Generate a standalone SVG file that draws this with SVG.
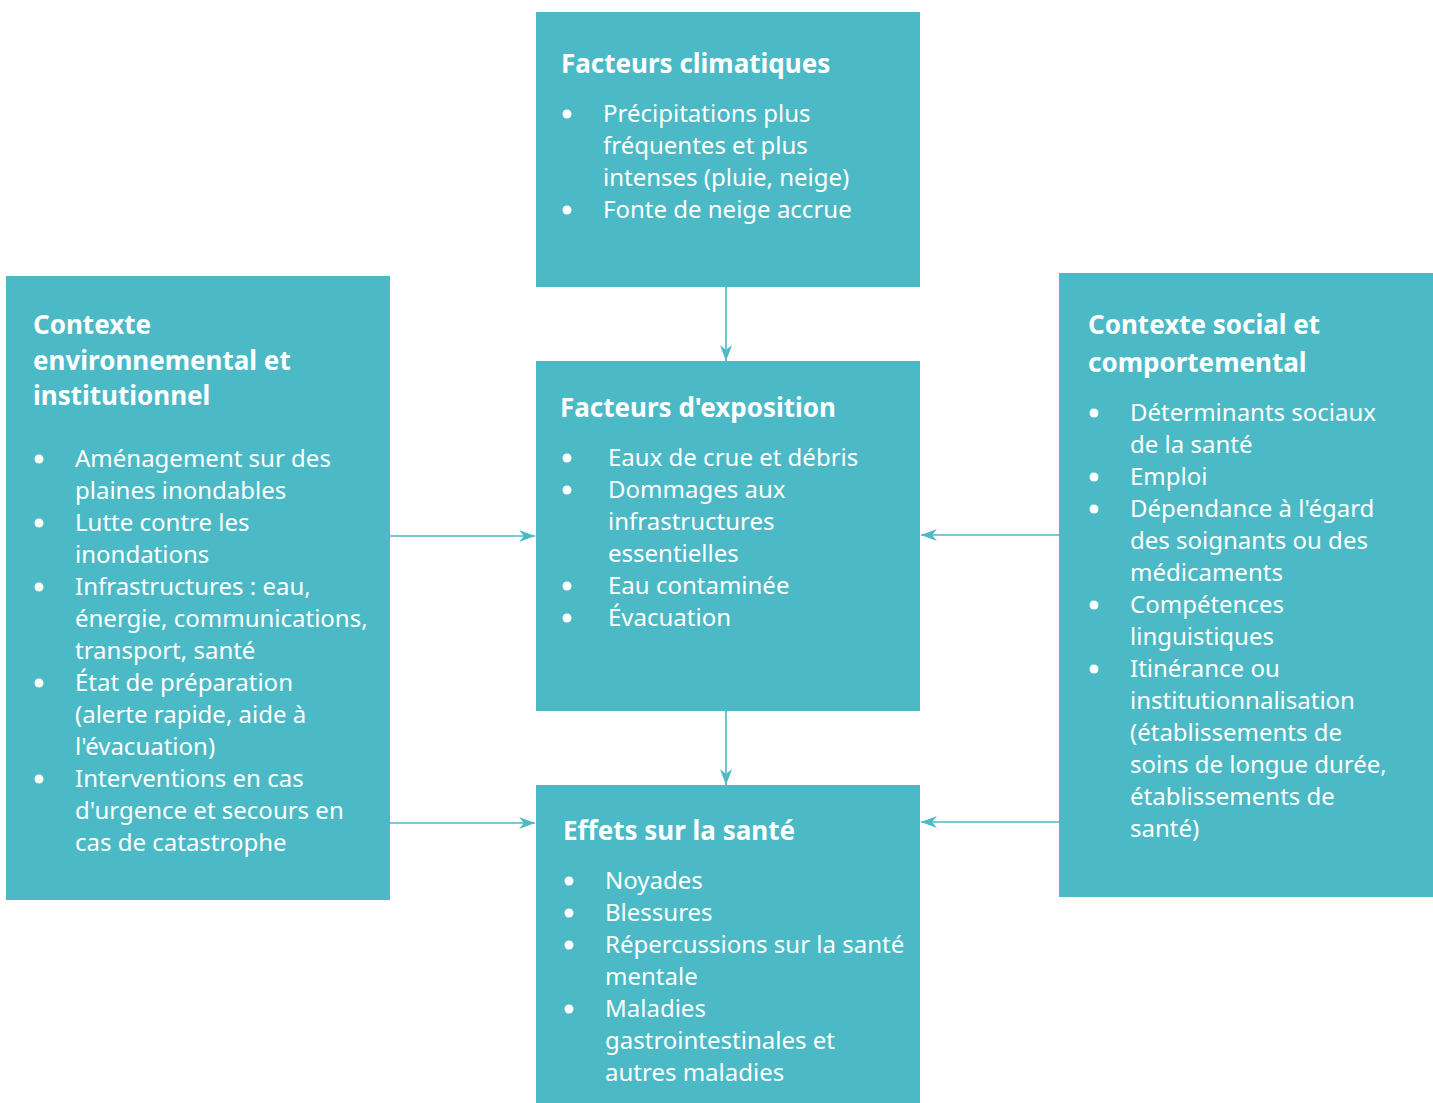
<svg xmlns="http://www.w3.org/2000/svg" width="1433" height="1103" viewBox="0 0 1433 1103">
  <style>
    .box { fill: #4bbac6; }
    .title { font-family: "Noto Sans", "Open Sans", sans-serif; font-weight: bold; font-size: 26px; fill: #ffffff; }
    .item { font-family: "Noto Sans", "Open Sans", sans-serif; font-size: 24px; fill: #ffffff; }
    .dot { fill: #ffffff; }
    .link { stroke: #4bbac6; stroke-width: 1.6; fill: none; marker-end: url(#arrow); }
  </style>
  <defs>
    <marker id="arrow" viewBox="0 0 16 12" refX="16" refY="6" markerWidth="16" markerHeight="12" markerUnits="userSpaceOnUse" orient="auto">
      <path d="M0,0 L16,6 L0,12 L5,6 Z" fill="#4bbac6"/>
    </marker>
  </defs>

  <!-- Connectors -->
  <g id="connectors">
    <line class="link" x1="726" y1="287" x2="726" y2="361"/>
    <line class="link" x1="726" y1="711" x2="726" y2="785"/>
    <line class="link" x1="390" y1="536" x2="535" y2="536"/>
    <line class="link" x1="390" y1="823" x2="535" y2="823"/>
    <line class="link" x1="1059" y1="535" x2="921" y2="535"/>
    <line class="link" x1="1059" y1="822" x2="921" y2="822"/>
  </g>

  <!-- Climate factors -->
  <g id="facteurs-climatiques">
    <rect class="box" x="536" y="12" width="384" height="275"/>
    <text class="title" x="561" y="73">Facteurs climatiques</text>
    <circle class="dot" cx="567" cy="114" r="4.5"/>
    <circle class="dot" cx="567" cy="210" r="4.5"/>
    <text class="item">
      <tspan x="603" y="122">Précipitations plus</tspan>
      <tspan x="603" y="154">fréquentes et plus</tspan>
      <tspan x="603" y="186">intenses (pluie, neige)</tspan>
      <tspan x="603" y="218">Fonte de neige accrue</tspan>
    </text>
  </g>

  <!-- Exposure factors -->
  <g id="facteurs-exposition">
    <rect class="box" x="536" y="361" width="384" height="350"/>
    <text class="title" x="560" y="417">Facteurs d'exposition</text>
    <circle class="dot" cx="567" cy="458" r="4.5"/>
    <circle class="dot" cx="567" cy="490" r="4.5"/>
    <circle class="dot" cx="567" cy="586" r="4.5"/>
    <circle class="dot" cx="567" cy="618" r="4.5"/>
    <text class="item">
      <tspan x="608" y="466">Eaux de crue et débris</tspan>
      <tspan x="608" y="498">Dommages aux</tspan>
      <tspan x="608" y="530">infrastructures</tspan>
      <tspan x="608" y="562">essentielles</tspan>
      <tspan x="608" y="594">Eau contaminée</tspan>
      <tspan x="608" y="626">Évacuation</tspan>
    </text>
  </g>

  <!-- Health effects -->
  <g id="effets-sante">
    <rect class="box" x="536" y="785" width="384" height="318"/>
    <text class="title" x="563" y="840">Effets sur la santé</text>
    <circle class="dot" cx="569" cy="881" r="4.5"/>
    <circle class="dot" cx="569" cy="913" r="4.5"/>
    <circle class="dot" cx="569" cy="945" r="4.5"/>
    <circle class="dot" cx="569" cy="1009" r="4.5"/>
    <text class="item">
      <tspan x="605" y="889">Noyades</tspan>
      <tspan x="605" y="921">Blessures</tspan>
      <tspan x="605" y="953">Répercussions sur la santé</tspan>
      <tspan x="605" y="985">mentale</tspan>
      <tspan x="605" y="1017">Maladies</tspan>
      <tspan x="605" y="1049">gastrointestinales et</tspan>
      <tspan x="605" y="1081">autres maladies</tspan>
    </text>
  </g>

  <!-- Environmental and institutional context -->
  <g id="contexte-environnemental">
    <rect class="box" x="6" y="276" width="384" height="624"/>
    <text class="title">
      <tspan x="33" y="334">Contexte</tspan>
      <tspan x="33" y="370">environnemental et</tspan>
      <tspan x="33" y="405">institutionnel</tspan>
    </text>
    <circle class="dot" cx="39" cy="459" r="4.5"/>
    <circle class="dot" cx="39" cy="523" r="4.5"/>
    <circle class="dot" cx="39" cy="587" r="4.5"/>
    <circle class="dot" cx="39" cy="683" r="4.5"/>
    <circle class="dot" cx="39" cy="779" r="4.5"/>
    <text class="item">
      <tspan x="75" y="467">Aménagement sur des</tspan>
      <tspan x="75" y="499">plaines inondables</tspan>
      <tspan x="75" y="531">Lutte contre les</tspan>
      <tspan x="75" y="563">inondations</tspan>
      <tspan x="75" y="595">Infrastructures : eau,</tspan>
      <tspan x="75" y="627">énergie, communications,</tspan>
      <tspan x="75" y="659">transport, santé</tspan>
      <tspan x="75" y="691">État de préparation</tspan>
      <tspan x="75" y="723">(alerte rapide, aide à</tspan>
      <tspan x="75" y="755">l'évacuation)</tspan>
      <tspan x="75" y="787">Interventions en cas</tspan>
      <tspan x="75" y="819">d'urgence et secours en</tspan>
      <tspan x="75" y="851">cas de catastrophe</tspan>
    </text>
  </g>

  <!-- Social and behavioural context -->
  <g id="contexte-social">
    <rect class="box" x="1059" y="273" width="374" height="624"/>
    <text class="title">
      <tspan x="1088" y="334">Contexte social et</tspan>
      <tspan x="1088" y="372">comportemental</tspan>
    </text>
    <circle class="dot" cx="1094" cy="413" r="4.5"/>
    <circle class="dot" cx="1094" cy="477" r="4.5"/>
    <circle class="dot" cx="1094" cy="509" r="4.5"/>
    <circle class="dot" cx="1094" cy="605" r="4.5"/>
    <circle class="dot" cx="1094" cy="669" r="4.5"/>
    <text class="item">
      <tspan x="1130" y="421">Déterminants sociaux</tspan>
      <tspan x="1130" y="453">de la santé</tspan>
      <tspan x="1130" y="485">Emploi</tspan>
      <tspan x="1130" y="517">Dépendance à l'égard</tspan>
      <tspan x="1130" y="549">des soignants ou des</tspan>
      <tspan x="1130" y="581">médicaments</tspan>
      <tspan x="1130" y="613">Compétences</tspan>
      <tspan x="1130" y="645">linguistiques</tspan>
      <tspan x="1130" y="677">Itinérance ou</tspan>
      <tspan x="1130" y="709">institutionnalisation</tspan>
      <tspan x="1130" y="741">(établissements de</tspan>
      <tspan x="1130" y="773">soins de longue durée,</tspan>
      <tspan x="1130" y="805">établissements de</tspan>
      <tspan x="1130" y="837">santé)</tspan>
    </text>
  </g>
</svg>
